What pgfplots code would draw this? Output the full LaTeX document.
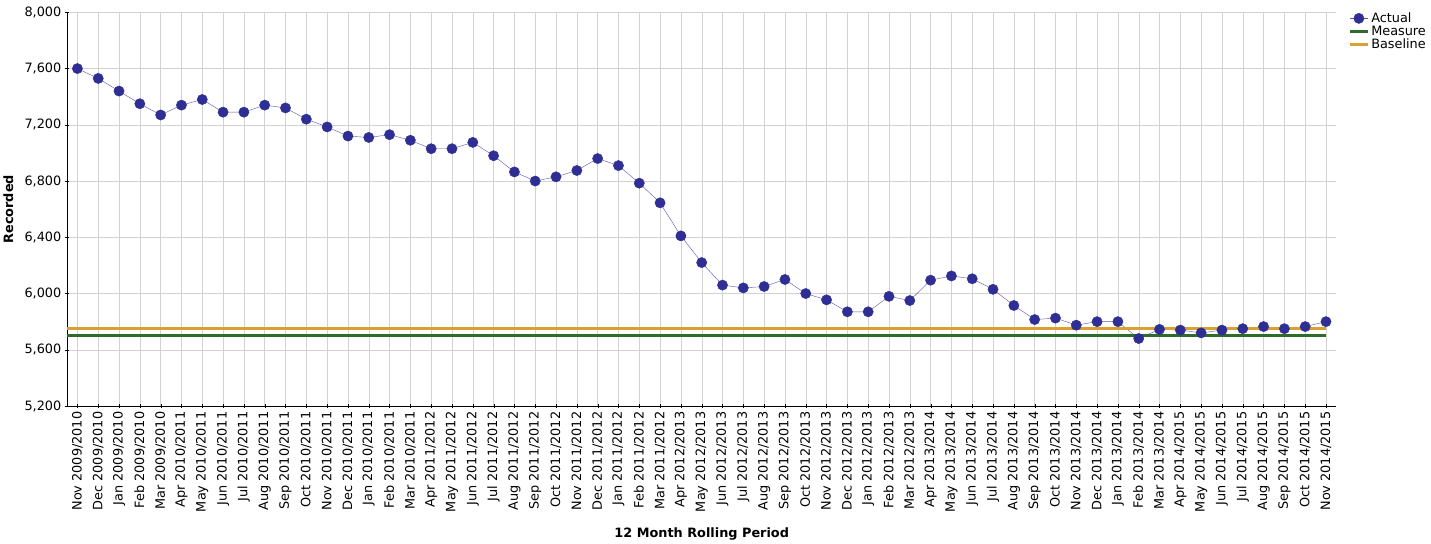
\documentclass[border=0pt]{standalone}
\usepackage{pgfplots}
\pgfplotsset{compat=1.18}
\usepackage{fontspec}
\setmainfont{DejaVu Sans}
\definecolor{act}{HTML}{2E2E94}
\definecolor{meas}{HTML}{2F6B2A}
\definecolor{base}{HTML}{D9A032}
\begin{document}
\begin{tikzpicture}
\begin{axis}[
  scale only axis, width=1235pt, height=383pt,
  xmin=-0.5, xmax=60.5, ymin=5200, ymax=8000,
  ytick={5200,5600,...,8000},
  axis lines=left, axis line style={-, black},
  grid=major, grid style={gray!35},
  xtick={0,...,60},
  xticklabels={Nov 2009/2010,Dec 2009/2010,Jan 2009/2010,Feb 2009/2010,Mar 2009/2010,Apr 2010/2011,May 2010/2011,Jun 2010/2011,Jul 2010/2011,Aug 2010/2011,Sep 2010/2011,Oct 2010/2011,Nov 2010/2011,Dec 2010/2011,Jan 2010/2011,Feb 2010/2011,Mar 2010/2011,Apr 2011/2012,May 2011/2012,Jun 2011/2012,Jul 2011/2012,Aug 2011/2012,Sep 2011/2012,Oct 2011/2012,Nov 2011/2012,Dec 2011/2012,Jan 2011/2012,Feb 2011/2012,Mar 2011/2012,Apr 2012/2013,May 2012/2013,Jun 2012/2013,Jul 2012/2013,Aug 2012/2013,Sep 2012/2013,Oct 2012/2013,Nov 2012/2013,Dec 2012/2013,Jan 2012/2013,Feb 2012/2013,Mar 2012/2013,Apr 2013/2014,May 2013/2014,Jun 2013/2014,Jul 2013/2014,Aug 2013/2014,Sep 2013/2014,Oct 2013/2014,Nov 2013/2014,Dec 2013/2014,Jan 2013/2014,Feb 2013/2014,Mar 2013/2014,Apr 2014/2015,May 2014/2015,Jun 2014/2015,Jul 2014/2015,Aug 2014/2015,Sep 2014/2015,Oct 2014/2015,Nov 2014/2015},
  xticklabel style={rotate=90, anchor=east, font=\fontsize{12.5}{14}\selectfont},
  yticklabel style={font=\fontsize{12.5}{14}\selectfont},
  /pgf/number format/assume math mode=true,
  /pgf/number format/1000 sep={,},
  ylabel={\textbf{Recorded}}, ylabel style={font=\fontsize{12.5}{14}\selectfont, yshift=4pt},
  xlabel={\textbf{12 Month Rolling Period}}, xlabel style={font=\fontsize{12.5}{14}\selectfont, yshift=-8pt},
  legend style={at={(rel axis cs:1.007,1.01)}, anchor=north west, draw=none, font=\fontsize{12.5}{14}\selectfont, row sep=-2pt},
  legend cell align=left,
  tick style={black}, major tick length=4pt,
]
\addplot[act!80, thin, mark=*, mark options={fill=act, draw=act}, mark size=5pt] coordinates {
(0,7600)(1,7530)(2,7440)(3,7350)(4,7270)(5,7340)(6,7380)(7,7290)(8,7290)(9,7340)
(10,7320)(11,7240)(12,7185)(13,7120)(14,7110)(15,7130)(16,7090)(17,7030)(18,7030)(19,7075)
(20,6980)(21,6865)(22,6800)(23,6830)(24,6875)(25,6960)(26,6910)(27,6785)(28,6645)(29,6410)
(30,6220)(31,6060)(32,6040)(33,6050)(34,6100)(35,6000)(36,5955)(37,5870)(38,5870)(39,5980)
(40,5950)(41,6095)(42,6125)(43,6105)(44,6030)(45,5915)(46,5815)(47,5825)(48,5775)(49,5800)
(50,5800)(51,5680)(52,5745)(53,5740)(54,5720)(55,5740)(56,5750)(57,5765)(58,5750)(59,5765)(60,5800)};
\addlegendentry{Actual}
\addplot[meas, line width=3pt] coordinates {(-0.5,5700)(60,5700)};
\addlegendentry{Measure}
\addplot[base, line width=3pt] coordinates {(-0.5,5750)(60,5750)};
\addlegendentry{Baseline}
\end{axis}
\path ([yshift=12pt]current axis.north);
\end{tikzpicture}
\end{document}
